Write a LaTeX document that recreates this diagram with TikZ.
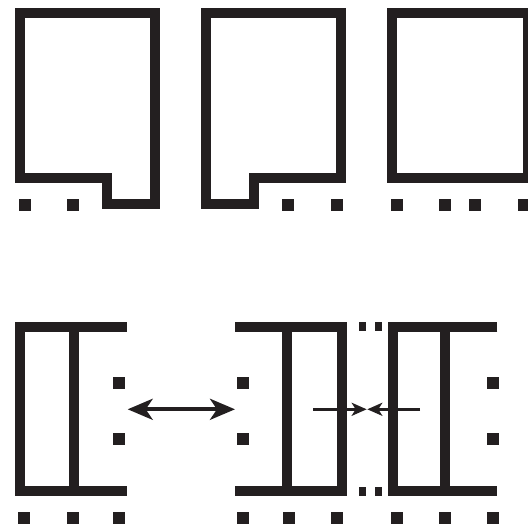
\documentclass[tikz,border=0pt]{standalone}
\usetikzlibrary{arrows.meta}
\definecolor{ink}{HTML}{231F20}
\newcommand\sqdot[2]{\fill[ink] ({#1-6},{#2-6}) rectangle ++(12,12);}
\newcommand\smdot[2]{\fill[ink] ({#1-3.5},{#2-4.5}) rectangle ++(7,9);}
\begin{document}
\begin{tikzpicture}[x=1pt,y=-1pt,
  wall/.style={draw=ink,line width=10pt,line join=miter,line cap=butt},
  bigarrow/.style={draw=ink,line width=4pt,{Stealth[length=25pt,width=21pt,inset=7pt]}-{Stealth[length=25pt,width=21pt,inset=7pt]}},
  smallarrow/.style={draw=ink,line width=3.5pt,-{Stealth[length=15pt,width=13pt,inset=4pt]}}]
\useasboundingbox (0,0) rectangle (528,525);
% top row
\draw[wall] (20,13.3) -- (155,13.3) -- (155,204.3) -- (106.7,204.3) -- (106.7,177.7) -- (20,177.7) -- cycle;
\draw[wall] (205.7,13.3) -- (340.7,13.3) -- (340.7,177.7) -- (254.3,177.7) -- (254.3,204.3) -- (205.7,204.3) -- cycle;
\draw[wall] (392.3,13.3) rectangle (528.3,177.7);
\foreach \x in {24.5,72.7,288,336.7,396.7,445,475.3,523.7} {\sqdot{\x}{205}}
% bottom row
\draw[wall] (126.7,326.7) -- (20,326.7) -- (20,490.7) -- (126.7,490.7);
\draw[wall] (74.3,326.7) -- (74.3,490.7);
\draw[wall] (235,326.7) -- (341.7,326.7) -- (341.7,490.7) -- (235,490.7);
\draw[wall] (286.7,326.7) -- (286.7,490.7);
\draw[wall] (497.3,326.7) -- (393.3,326.7) -- (393.3,490.7) -- (497.3,490.7);
\draw[wall] (445,326.7) -- (445,490.7);
\foreach \y in {326.7,491} {\smdot{362}{\y}\smdot{378}{\y}}
\foreach \y in {382.7,438.7} {\sqdot{119.3}{\y}\sqdot{243}{\y}\sqdot{492.5}{\y}}
\foreach \x in {24.3,73.3,119.3,242.5,288.5,336.7,396.8,444.8,492.5} {\sqdot{\x}{518.3}}
% arrows
\coordinate (a1) at (127.7,409.3);
\coordinate (a2) at (235,409.3);
\draw[bigarrow] (a1) -- (a2);
\coordinate (b1) at (313.3,409.3);
\coordinate (b2) at (366.7,409.3);
\coordinate (c1) at (420,409.3);
\coordinate (c2) at (367.3,409.3);
\draw[smallarrow] (b1) -- (b2);
\draw[smallarrow] (c1) -- (c2);
\end{tikzpicture}
\end{document}
